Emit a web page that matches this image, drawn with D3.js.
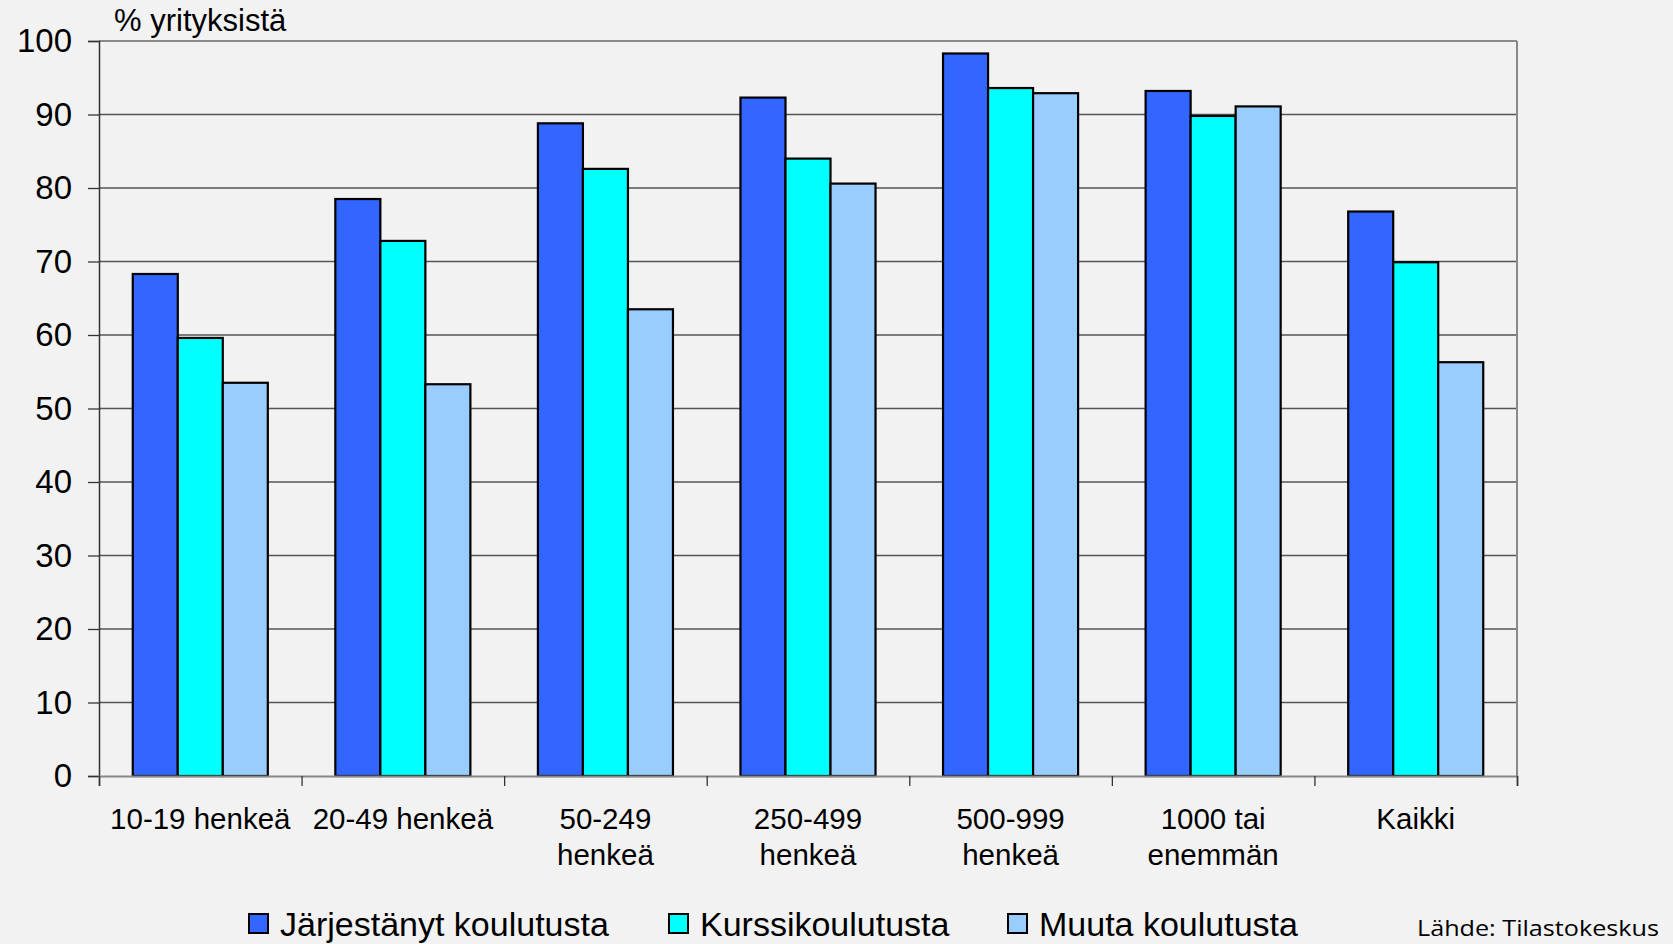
<!DOCTYPE html>
<html><head><meta charset="utf-8">
<script src="https://cdn.jsdelivr.net/npm/d3@7"></script>
<style>
html,body{margin:0;padding:0;background:#f2f2f2;}
svg{display:block;}
text{font-family:"Liberation Sans",Arial,sans-serif;fill:#000;}
</style></head>
<body><svg id="c" width="1673" height="944"></svg>
<script>
const categories = ["10-19 henkeä","20-49 henkeä","50-249\nhenkeä","250-499\nhenkeä","500-999\nhenkeä","1000 tai\nenemmän","Kaikki"];
const seriesNames = ["Järjestänyt koulutusta","Kurssikoulutusta","Muuta koulutusta"];
const jarjestanyt = [68.3, 78.5, 88.8, 92.3, 98.3, 93.2, 76.8];
const kurssi      = [59.6, 72.8, 82.6, 84.0, 93.6, 89.8, 69.9];
const muuta       = [53.5, 53.3, 63.5, 80.6, 92.9, 91.1, 56.3];
const yTicks = [0,10,20,30,40,50,60,70,80,90,100];
const colors = ["#3366ff","#00ffff","#99ccff"];
const seriesValues = [jarjestanyt, kurssi, muuta];

const svg = d3.select("#c");
const L = 99, R = 1517, T = 41, B = 776;

const x0 = d3.scaleBand().domain(categories).range([L, R]).padding(0);
const x1 = d3.scaleBand().domain(seriesNames).range([0, x0.bandwidth()]).paddingInner(0).paddingOuter(0.75);
const y = d3.scaleLinear().domain([0, 100]).range([B, T]);

// gridlines
svg.append("g").selectAll("line").data(yTicks.filter(t => t > 0 && t < 100)).join("line")
  .attr("x1", L).attr("x2", R).attr("y1", d => y(d)).attr("y2", d => y(d))
  .attr("stroke", "#555").attr("stroke-width", 1.3);
// top & right border
svg.append("line").attr("x1", L).attr("x2", R).attr("y1", y(100)).attr("y2", y(100)).attr("stroke", "#8a8a8a").attr("stroke-width", 2);
svg.append("line").attr("x1", R).attr("x2", R).attr("y1", T).attr("y2", B).attr("stroke", "#8a8a8a").attr("stroke-width", 2);

// bars
const grp = svg.append("g").selectAll("g").data(categories).join("g")
  .attr("transform", d => `translate(${x0(d)},0)`);
grp.selectAll("rect").data((d, i) => seriesNames.map((s, j) => ({s, j, v: seriesValues[j][i]}))).join("rect")
  .attr("x", d => x1(d.s)).attr("width", x1.bandwidth())
  .attr("y", d => y(d.v)).attr("height", d => y(0) - y(d.v))
  .attr("fill", d => colors[d.j]).attr("stroke", "#000").attr("stroke-width", 2.2);

// y axis
const yAxis = svg.append("g").attr("transform", `translate(${L},0)`)
  .call(d3.axisLeft(y).tickValues(yTicks).tickSize(11).tickPadding(16));
yAxis.select(".domain").attr("stroke", "#333").attr("stroke-width", 1.5);
yAxis.selectAll(".tick line").attr("stroke", "#333").attr("stroke-width", 1.3);
yAxis.selectAll(".tick text").style("font-size", "33px").attr("fill", "#000");

// x axis: boundary ticks
const xb = d3.scaleLinear().domain([0, categories.length]).range([L, R]);
const xAxis = svg.append("g").attr("transform", `translate(0,${B})`)
  .call(d3.axisBottom(xb).tickValues(d3.range(categories.length + 1)).tickSize(10).tickFormat(""));
xAxis.select(".domain").attr("stroke", "#888").attr("stroke-width", 2);
xAxis.selectAll(".tick line").attr("stroke", "#333").attr("stroke-width", 1.3);

// category labels
const lab = svg.append("g").selectAll("text").data(categories).join("text")
  .attr("x", d => x0(d) + x0.bandwidth() / 2).attr("y", 829)
  .attr("text-anchor", "middle").style("font-size", "29.5px");
lab.selectAll("tspan").data(d => d.split("\n")).join("tspan")
  .attr("x", function() { return this.parentNode.getAttribute("x"); })
  .attr("dy", (d, i) => i === 0 ? 0 : 36).text(d => d);

// axis title
svg.append("text").attr("x", 114).attr("y", 31).style("font-size", "31px").text("% yrityksistä");

// legend
const legX = [249, 669, 1008];
const leg = svg.append("g").selectAll("g").data(seriesNames).join("g")
  .attr("transform", (d, i) => `translate(${legX[i]},914)`);
leg.append("rect").attr("width", 19).attr("height", 19).attr("fill", (d, i) => colors[i]).attr("stroke", "#000").attr("stroke-width", 2);
leg.append("text").attr("x", 31).attr("y", 22).style("font-size", "34px").text(d => d);

svg.append("text").attr("x", 1417).attr("y", 936).style("font-family", "'Open Sans',sans-serif").style("font-size", "22px")
  .attr("textLength", 242).attr("lengthAdjust", "spacingAndGlyphs").text("Lähde: Tilastokeskus");
</script></body></html>
